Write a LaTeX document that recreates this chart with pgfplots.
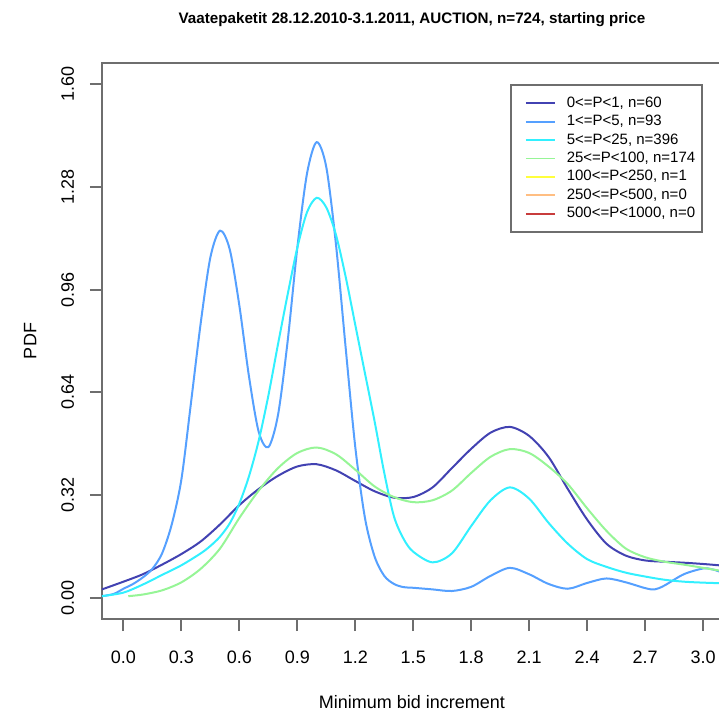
\documentclass[border=0pt]{standalone}
\usepackage{pgfplots}
\pgfplotsset{compat=1.18}
\usepackage{fontspec}
\setmainfont{Liberation Sans}
\definecolor{c1}{RGB}{66,66,178}
\definecolor{c2}{RGB}{85,160,255}
\definecolor{c3}{RGB}{50,240,255}
\definecolor{c4}{RGB}{150,245,150}
\definecolor{c5}{RGB}{255,255,60}
\definecolor{c6}{RGB}{255,190,130}
\definecolor{c7}{RGB}{200,60,60}
\definecolor{framegray}{RGB}{110,110,110}

\begin{document}
\begin{tikzpicture}
\path[use as bounding box] (-51pt,-47pt) rectangle (308.5pt,309.5pt);
\clip (-51pt,-47pt) rectangle (308.5pt,309.5pt);
\begin{axis}[
  at={(0pt,0pt)}, anchor=south west,
  scale only axis, width=310pt, height=278pt,
  xmin=-0.111, xmax=3.098, ymin=-0.064, ymax=1.664,
  xtick={0,0.3,0.6,0.9,1.2,1.5,1.8,2.1,2.4,2.7,3.0},
  ytick={0,0.32,0.64,0.96,1.28,1.6},
  tick pos=left, tick align=outside, major tick length=6pt,
  axis line style={draw=framegray, line width=1pt},
  every tick/.style={draw=framegray, line width=1pt},
  /pgf/number format/assume math mode=true,
  tick label style={font=\fontsize{9}{10}\selectfont},
  xticklabel style={/pgf/number format/.cd, fixed, fixed zerofill, precision=1,
    /tikz/.cd, anchor=base, yshift=-16.15pt},
  yticklabel style={/pgf/number format/.cd, fixed, fixed zerofill, precision=2,
    /tikz/.cd, xshift=-8pt, rotate=90, anchor=base},
  label style={font=\fontsize{9}{10}\selectfont},
  xlabel={Minimum bid increment}, ylabel={PDF},
  xlabel style={at={(axis description cs:0.5,0)}, anchor=base, yshift=-44.65pt},
  ylabel style={at={(axis description cs:-0.10565,0.5)}, anchor=base},
  title={Vaatepaketit 28.12.2010-3.1.2011, AUCTION, n=724, starting price},
  title style={at={(axis description cs:0.5,1)}, anchor=base, yshift=13.5pt,
    font=\bfseries\fontsize{7.6}{9}\selectfont},
  legend style={at={(axis description cs:0.658,0.962)}, anchor=north west,
    draw=framegray, line width=1pt, font=\fontsize{7.5}{9}\selectfont,
    inner xsep=3.5pt, inner ysep=5.6pt, row sep=2.2pt, column sep=5.65pt,
    nodes={inner sep=0pt, text height=5.5pt, text depth=1.5pt}},
  legend cell align=left,
  legend image code/.code={\path (0pt,0pt); \draw[#1, line width=0.9pt] (3.5pt,0pt) -- (17.8pt,0pt);},
]
% 0<=P<1
\addplot[c1, line width=1pt, smooth] table {
-0.111 0.028
0.0 0.052
0.1 0.075
0.2 0.105
0.3 0.138
0.4 0.177
0.5 0.230
0.6 0.290
0.7 0.340
0.8 0.381
0.9 0.410
1.0 0.417
1.1 0.398
1.2 0.365
1.3 0.333
1.4 0.313
1.5 0.315
1.6 0.345
1.7 0.405
1.8 0.465
1.9 0.515
2.0 0.533
2.1 0.505
2.2 0.440
2.3 0.340
2.4 0.245
2.5 0.170
2.6 0.133
2.7 0.118
2.8 0.114
2.9 0.111
3.0 0.107
3.1 0.102
};
\addlegendentry{0<=P<1, n=60}
% 1<=P<5
\addplot[c2, line width=1pt, smooth] table {
-0.111 0.007
-0.05 0.014
0.0 0.030
0.05 0.045
0.1 0.065
0.15 0.092
0.2 0.140
0.25 0.230
0.3 0.370
0.35 0.610
0.4 0.856
0.45 1.060
0.5 1.143
0.55 1.085
0.6 0.910
0.65 0.689
0.7 0.518
0.75 0.470
0.8 0.570
0.85 0.800
0.9 1.090
0.95 1.320
1.0 1.418
1.05 1.340
1.1 1.100
1.15 0.780
1.2 0.470
1.25 0.250
1.3 0.130
1.35 0.070
1.4 0.045
1.45 0.035
1.5 0.033
1.6 0.028
1.7 0.023
1.8 0.036
1.9 0.070
2.0 0.095
2.1 0.075
2.2 0.045
2.3 0.030
2.4 0.048
2.5 0.062
2.6 0.050
2.7 0.032
2.75 0.028
2.8 0.040
2.9 0.075
3.0 0.093
3.05 0.090
3.1 0.080
};
\addlegendentry{1<=P<5, n=93}
% 5<=P<25
\addplot[c3, line width=1pt, smooth] table {
-0.111 0.007
0.0 0.018
0.1 0.043
0.2 0.073
0.3 0.103
0.4 0.140
0.45 0.163
0.5 0.192
0.55 0.233
0.6 0.295
0.65 0.380
0.7 0.490
0.75 0.630
0.8 0.790
0.85 0.945
0.9 1.090
0.95 1.200
1.0 1.245
1.05 1.215
1.1 1.130
1.15 1.000
1.2 0.850
1.25 0.700
1.3 0.550
1.35 0.390
1.4 0.255
1.45 0.185
1.5 0.145
1.6 0.112
1.7 0.140
1.8 0.225
1.9 0.305
2.0 0.345
2.1 0.310
2.2 0.235
2.3 0.170
2.4 0.122
2.5 0.098
2.6 0.080
2.7 0.068
2.8 0.058
2.9 0.052
3.0 0.049
3.1 0.047
};
\addlegendentry{5<=P<25, n=396}
% 25<=P<100
\addplot[c4, line width=1pt, smooth] table {
0.025 0.007
0.1 0.012
0.2 0.025
0.3 0.050
0.4 0.092
0.5 0.155
0.6 0.250
0.7 0.335
0.8 0.405
0.9 0.452
1.0 0.469
1.1 0.448
1.2 0.400
1.3 0.348
1.4 0.315
1.5 0.299
1.6 0.305
1.7 0.335
1.8 0.390
1.9 0.440
2.0 0.464
2.1 0.452
2.2 0.410
2.3 0.355
2.4 0.280
2.5 0.210
2.6 0.155
2.7 0.128
2.8 0.114
2.9 0.105
3.0 0.095
3.1 0.085
};
\addlegendentry{25<=P<100, n=174}
\addlegendimage{c5}
\addlegendentry{100<=P<250, n=1}
\addlegendimage{c6}
\addlegendentry{250<=P<500, n=0}
\addlegendimage{c7}
\addlegendentry{500<=P<1000, n=0}
\end{axis}
\end{tikzpicture}
\end{document}
